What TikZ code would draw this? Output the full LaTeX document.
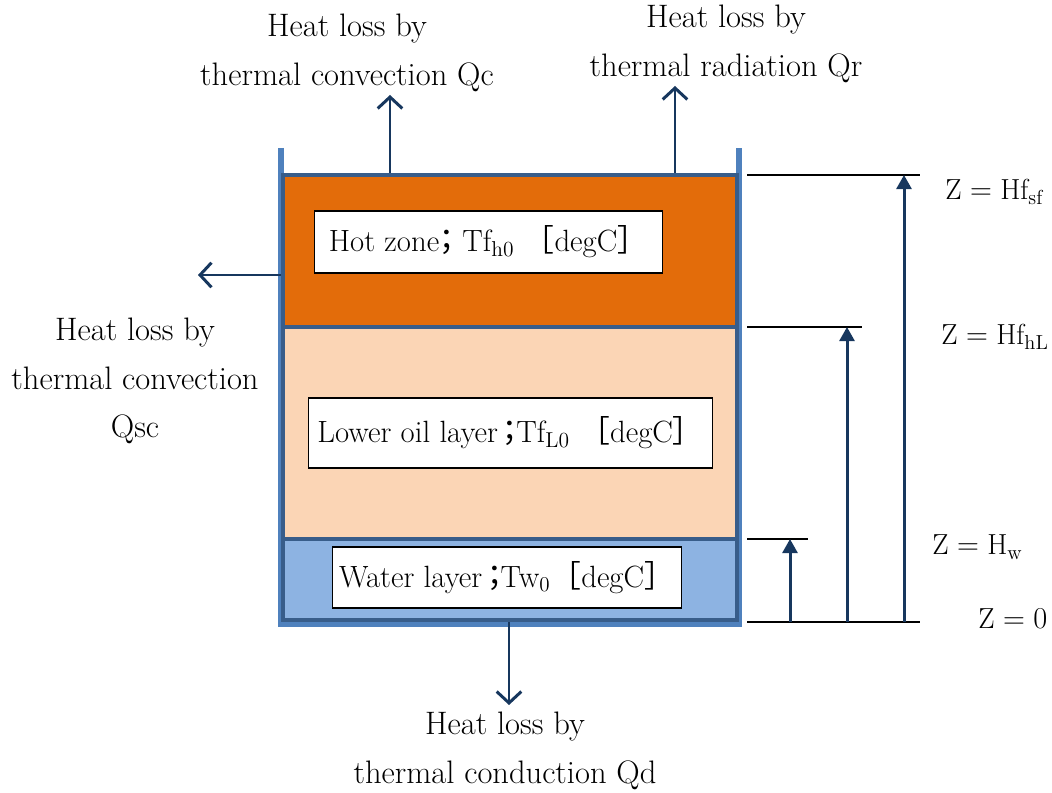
\documentclass[tikz,border=0pt]{standalone}
\usepackage{fontspec}
\usepackage{amsmath}
\newfontfamily\cjk{Noto Sans CJK JP}
\usetikzlibrary{arrows.meta}
\newcommand{\fw}[1]{{\cjk #1}}
\definecolor{hotc}{HTML}{E36C0A}
\definecolor{oilc}{HTML}{FBD5B5}
\definecolor{waterc}{HTML}{8DB3E2}
\definecolor{edgec}{HTML}{385D8A}
\definecolor{wallc}{HTML}{4F81BD}
\definecolor{navy}{HTML}{17375E}

\begin{document}
\begin{tikzpicture}[x=0.02cm,y=-0.02cm,font=\fontsize{18.5}{27.5}\selectfont]
    \tikzstyle{layer}=[draw=edgec,line width=2.3pt,minimum width=9.08cm,inner sep=0pt]
    \tikzstyle{label box}=[draw=black,fill=white,line width=0.6pt,inner sep=0pt,font=\fontsize{17.5}{20}\selectfont]
    \tikzstyle{heat}=[draw=navy,line width=1.7pt,-{Straight Barb[length=6.5pt,width=14pt]}]
    \tikzstyle{level}=[draw=black,line width=1.7pt]
    \tikzstyle{dim}=[draw=navy,line width=1.7pt,-{Triangle[length=8pt,width=8.5pt]}]
    \tikzstyle{annot}=[align=center]
    \tikzstyle{height}=[anchor=base west,inner sep=0pt,font=\fontsize{16.5}{20}\selectfont]

    \useasboundingbox (0,0) rectangle (1052,793);

    % Draw the tank wall
    \draw[wallc,line width=3.2pt] (281,148) -- (281,624) -- (739,624) -- (739,148);

    % Draw the three layers
    \node[layer,fill=hotc,minimum height=3.04cm] (hot) at (510,251) {};
    \node[layer,fill=oilc,minimum height=4.24cm] (oil) at (510,433) {};
    \node[layer,fill=waterc,minimum height=1.62cm] (water) at (510,579.5) {};

    % Temperature boxes
    \node[label box,minimum width=6.98cm,minimum height=1.24cm] (hot-t) at (488.5,242)
        {Hot zone\kern-0.25em\fw{；}Tf$_{\mathrm{h0}}$ \fw{［}degC\fw{］}};
    \node[label box,minimum width=8.1cm,minimum height=1.4cm] (oil-t) at (510.5,433)
        {Lower oil layer\kern-0.1em\fw{；}\kern-0.3em Tf$_{\mathrm{L0}}$ \fw{［}degC\fw{］}};
    \node[label box,minimum width=7cm,minimum height=1.22cm] (water-t) at (507,577.5)
        {Water layer\kern-0.1em\fw{；}\kern-0.3em Tw$_0$\fw{［}degC\fw{］}};

    % Heat losses
    \coordinate (qc) at (390,95);
    \coordinate (qr) at (675,86);
    \coordinate (qsc) at (198,275);
    \coordinate (qd) at (509,705);
    \draw[heat] (hot.north -| qc) -- (qc);
    \draw[heat] (hot.north -| qr) -- (qr);
    \draw[heat] (hot.west |- qsc) -- (qsc);
    \draw[heat] (water.south -| qd) -- (qd);

    \node[annot] (txt-qc) at (347,53) {Heat loss by\\thermal convection Qc};
    \node[annot] (txt-qr) at (726,44) {Heat loss by\\thermal radiation Qr};
    \node[annot] (txt-qsc) at (135,381) {Heat loss by\\thermal convection\\Qsc};
    \node[annot] (txt-qd) at (505,751) {Heat loss by\\thermal conduction Qd};

    % Levels and heights
    \coordinate (base) at (747,622);
    \draw[level] (base) -- ++(173,0);
    \foreach \name/\y/\xa/\xe in {w/539/790/808, hL/327/847/862, sf/175/904/920}
    {
        \coordinate (top-\name) at (\xa,\y);
        \coordinate (bot-\name) at (\xa,622);
        \draw[level] (base |- top-\name) -- (\xe,\y);
        \draw[dim] (bot-\name) -- (top-\name);
    }

    \node[height] (z-sf) at (945,200) {$\mathrm{Z}=\mathrm{Hf}_{\mathrm{sf}}$};
    \node[height] (z-hL) at (941,345) {$\mathrm{Z}=\mathrm{Hf}_{\mathrm{hL}}$};
    \node[height] (z-w) at (932,555) {$\mathrm{Z}=\mathrm{H}_{\mathrm{w}}$};
    \node[height] (z-0) at (978,629) {$\mathrm{Z}=0$};
\end{tikzpicture}
\end{document}
